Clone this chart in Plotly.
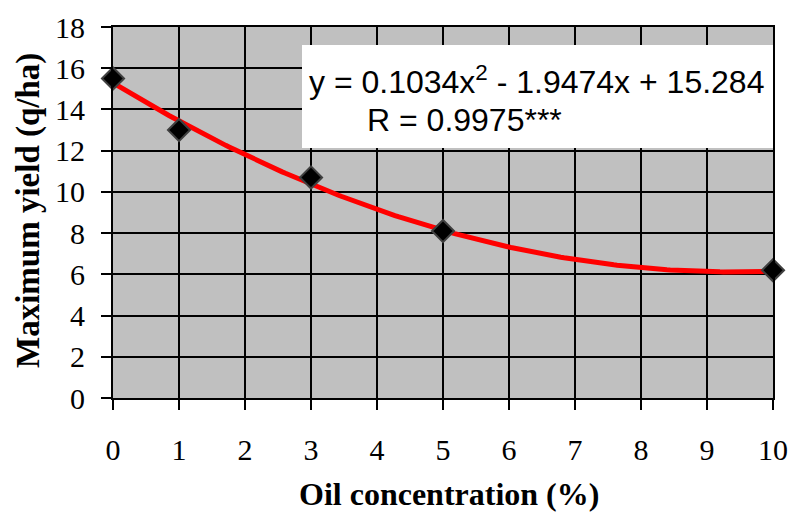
import numpy as np
import plotly.graph_objects as go

# Data
oil_conc = [0, 1, 3, 5, 10]
max_yield = [15.5, 13.0, 10.7, 8.1, 6.2]
fit_coeffs = [0.1034, -1.9474, 15.284]  # quadratic trendline shown on the chart
x_ticks = list(range(0, 11))
y_ticks = list(range(0, 19, 2))
eq_text = "y = 0.1034x<sup>2</sup> - 1.9474x + 15.284"
r_text = "R = 0.9975***"
x_title = "<b>Oil concentration (%)</b>"
y_title = "<b>Maximum yield (q/ha)</b>"

xs = np.linspace(0, 10, 200)
ys = np.polyval(fit_coeffs, xs)

serif = "Liberation Serif, Times New Roman, serif"
sans = "Liberation Sans, Arial, sans-serif"

L, R, T, B = 113, 773, 27, 398
W, H = R - L, B - T

def px(xp):
    return (xp - L) / W

def py(yp):
    return (B - yp) / H

fig = go.Figure()
fig.add_trace(go.Scatter(
    x=xs, y=ys, mode="lines", line=dict(color="#FF0000", width=5),
    showlegend=False, cliponaxis=False))
fig.add_trace(go.Scatter(
    x=oil_conc, y=max_yield, mode="markers",
    marker=dict(symbol="diamond", size=17, color="black",
                line=dict(color="#404040", width=2)),
    showlegend=False, cliponaxis=False))

# white box for equation
fig.add_shape(type="rect", xref="paper", yref="paper",
              x0=px(302), x1=px(773), y0=py(148), y1=py(45),
              fillcolor="white", line=dict(width=0), layer="above")

fig.add_annotation(xref="paper", yref="paper", x=px(307), y=py(80),
                   xanchor="left", yanchor="middle", text=eq_text, showarrow=False,
                   font=dict(family=sans, size=32, color="black"))
fig.add_annotation(xref="paper", yref="paper", x=px(365), y=py(120),
                   xanchor="left", yanchor="middle", text=r_text, showarrow=False,
                   font=dict(family=sans, size=32, color="black"))

# axis titles
fig.add_annotation(xref="paper", yref="paper", x=px(449), y=py(494),
                   xanchor="center", yanchor="middle", text=x_title, showarrow=False,
                   font=dict(family=serif, size=32, color="black"))
fig.add_annotation(xref="paper", yref="paper", x=px(28), y=py(211),
                   xanchor="center", yanchor="middle", text=y_title, showarrow=False,
                   textangle=-90, font=dict(family=serif, size=33, color="black"))

axis_common = dict(showgrid=True, gridcolor="black", gridwidth=2,
                   showline=True, linecolor="black", linewidth=2, mirror=True,
                   ticks="outside", ticklen=10, tickwidth=2, tickcolor="black",
                   zeroline=False, automargin=False,
                   tickfont=dict(family=serif, size=30, color="black"))

fig.update_xaxes(range=[0, 10], tickvals=x_ticks, ticklabelstandoff=14, **axis_common)
fig.update_yaxes(range=[0, 18], tickvals=y_ticks, ticklabelstandoff=10, **axis_common)

fig.update_layout(width=792, height=513,
                  margin=dict(l=L, r=792 - R, t=T, b=513 - B),
                  paper_bgcolor="white", plot_bgcolor="#C0C0C0")

fig.write_html("out.html")
